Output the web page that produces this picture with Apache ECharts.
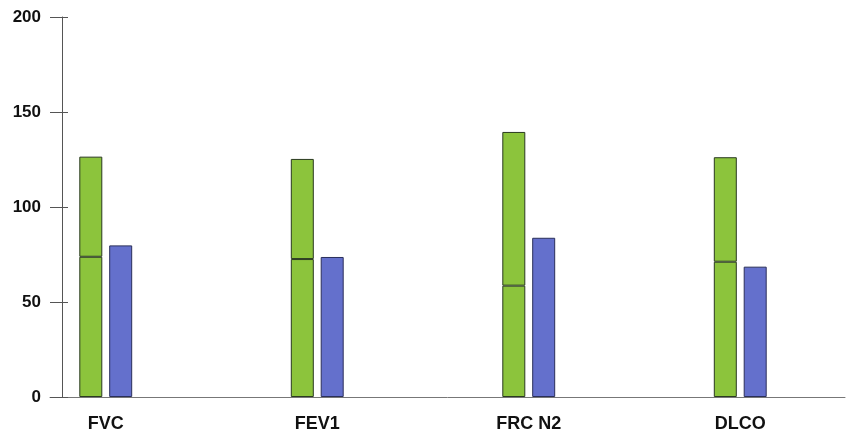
<!DOCTYPE html>
<html><head><meta charset="utf-8">
<script src="https://cdn.jsdelivr.net/npm/echarts@6/dist/echarts.min.js"></script>
<style>html,body{margin:0;padding:0;background:#fff}#c{width:853px;height:437px}</style>
</head><body><div id="c"></div>
<script>
const categories = ['FVC', 'FEV1', 'FRC N2', 'DLCO'];
const lowerLimit = [73.8, 72.6, 58.6, 71.2];
const upperLimit = [126.5, 125.3, 139.5, 126.2];
const measured = [79.8, 73.7, 83.8, 68.6];
const yTicks = [0, 50, 100, 150, 200];

const upperSegment = upperLimit.map((u, i) => +(u - lowerLimit[i]).toFixed(2));
const ff = 'Liberation Sans, Arial, sans-serif';
const chart = echarts.init(document.getElementById('c'));
const green = '#8cc43c', blue = '#6470cc', edge = '#2a3a20';
chart.setOption({
  animation: false,
  grid: [
    {left: 0, width: 846, top: 17, bottom: 40},
    {left: 50, right: 8, top: 17, bottom: 40}
  ],
  xAxis: [
    {type: 'category', gridIndex: 0, data: categories, axisLine: {show: false}, axisTick: {show: false},
     axisLabel: {margin: 18, fontFamily: ff, fontWeight: 'bold', fontSize: 18, color: '#111'}},
    {type: 'value', gridIndex: 1, min: 0, max: 1, axisLine: {show: true, lineStyle: {color: '#777', width: 1}},
     axisTick: {show: false}, axisLabel: {show: false}, splitLine: {show: false}}
  ],
  yAxis: [
    {type: 'value', gridIndex: 0, min: yTicks[0], max: yTicks[yTicks.length - 1], interval: 50, show: false},
    {type: 'value', gridIndex: 1, position: 'left', min: yTicks[0], max: yTicks[yTicks.length - 1], interval: 50, offset: -12,
     axisLine: {show: true, lineStyle: {color: '#555', width: 1}},
     axisTick: {show: true, length: 12, lineStyle: {color: '#555'}},
     axisLabel: {margin: 21, fontFamily: ff, fontWeight: 'bold', fontSize: 17, color: '#111'}, splitLine: {show: false}},
    {type: 'value', gridIndex: 1, position: 'left', min: yTicks[0], max: yTicks[yTicks.length - 1], interval: 50, offset: -12,
     axisLine: {show: false}, axisTick: {show: true, inside: true, length: 6, lineStyle: {color: '#555'}},
     axisLabel: {show: false}, splitLine: {show: false}}
  ],
  series: [
    {type: 'bar', xAxisIndex: 0, yAxisIndex: 0, stack: 'ref', data: lowerLimit, barWidth: 23, barGap: '30%',
     itemStyle: {color: green, borderColor: edge, borderWidth: 1}},
    {type: 'bar', xAxisIndex: 0, yAxisIndex: 0, stack: 'ref', data: upperSegment, barWidth: 23, barGap: '30%',
     itemStyle: {color: green, borderColor: edge, borderWidth: 1}},
    {type: 'bar', xAxisIndex: 0, yAxisIndex: 0, data: measured, barWidth: 23, barGap: '30%',
     itemStyle: {color: blue, borderColor: '#2a2f5a', borderWidth: 1}}
  ]
});
</script></body></html>
